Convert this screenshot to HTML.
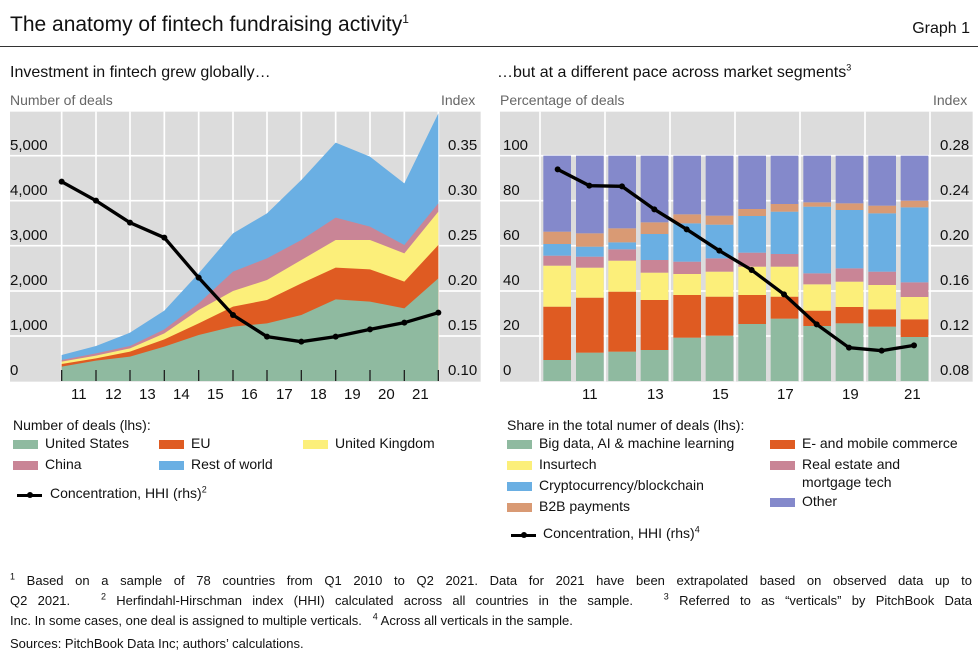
<!DOCTYPE html>
<html><head><meta charset="utf-8"><style>
body{margin:0;width:978px;height:653px;background:#fff;font-family:"Liberation Sans","DejaVu Sans",sans-serif;color:#111;position:relative;overflow:hidden}
.t{position:absolute;white-space:nowrap}
.g{color:#666}
.sw{position:absolute;width:25px;height:9px}
sup{font-size:9px;line-height:0}
.fn{position:absolute;left:10px;width:962px;font-size:13px;white-space:nowrap;text-align:justify;text-align-last:justify}
</style></head><body>
<div class="t" style="left:10px;top:13px;font-size:21px">The anatomy of fintech fundraising activity<sup style="font-size:12px">1</sup></div>
<div class="t" style="right:8px;top:20px;font-size:16px">Graph 1</div>
<div style="position:absolute;left:0;top:46px;width:978px;height:1px;background:#333"></div>
<div class="t" style="left:10px;top:64px;font-size:16px">Investment in fintech grew globally…</div>
<div class="t" style="left:497px;top:64px;font-size:16px">…but at a different pace across market segments<sup>3</sup></div>
<div class="t g" style="left:10px;top:92px;font-size:14px">Number of deals</div>
<div class="t g" style="left:441px;top:92px;font-size:14px">Index</div>
<div class="t g" style="left:500px;top:92px;font-size:14px">Percentage of deals</div>
<div class="t g" style="left:933px;top:92px;font-size:14px">Index</div>

<svg style="position:absolute;left:0;top:0" width="978" height="653">
<g transform="translate(0,90) scale(0.3333333)">
<rect x="30" y="65" width="1412" height="810" fill="#dcdcdc"/>
<g stroke="#fff" stroke-width="5">
<line x1="30" x2="1442" y1="197" y2="197"/><line x1="30" x2="1442" y1="332" y2="332"/><line x1="30" x2="1442" y1="467" y2="467"/><line x1="30" x2="1442" y1="603" y2="603"/><line x1="30" x2="1442" y1="738" y2="738"/>
<line y1="65" y2="873" x1="185" x2="185"/><line y1="65" y2="873" x1="288" x2="288"/><line y1="65" y2="873" x1="390" x2="390"/><line y1="65" y2="873" x1="493" x2="493"/><line y1="65" y2="873" x1="596" x2="596"/><line y1="65" y2="873" x1="699" x2="699"/><line y1="65" y2="873" x1="801" x2="801"/><line y1="65" y2="873" x1="904" x2="904"/><line y1="65" y2="873" x1="1007" x2="1007"/><line y1="65" y2="873" x1="1110" x2="1110"/><line y1="65" y2="873" x1="1213" x2="1213"/><line y1="65" y2="873" x1="1315" x2="1315"/>
</g>
<polygon fill="#6aafe3" points="185,873 185,795 288,768 390,728 493,662 596,550 699,430 801,370 904,270 1007,158 1110,200 1213,280 1315,70 1315,873"/>
<polygon fill="#c98596" points="185,873 185,810 288,790 390,768 493,718 596,640 699,545 801,505 904,450 1007,383 1110,410 1213,465 1315,340 1315,873"/>
<polygon fill="#fcef7a" points="185,873 185,815 288,797 390,775 493,730 596,660 699,603 801,570 904,510 1007,450 1110,450 1213,490 1315,365 1315,873"/>
<polygon fill="#df5b22" points="185,873 185,822 288,805 390,785 493,748 596,700 699,650 801,630 904,580 1007,533 1110,538 1213,575 1315,465 1315,873"/>
<polygon fill="#8fbaa0" points="185,873 185,830 288,812 390,800 493,770 596,735 699,710 801,700 904,675 1007,628 1110,635 1213,655 1315,565 1315,873"/>
<g stroke="#222" stroke-width="4"><line x1="185" x2="185" y1="840" y2="873"/><line x1="288" x2="288" y1="840" y2="873"/><line x1="390" x2="390" y1="840" y2="873"/><line x1="493" x2="493" y1="840" y2="873"/><line x1="596" x2="596" y1="840" y2="873"/><line x1="699" x2="699" y1="840" y2="873"/><line x1="801" x2="801" y1="840" y2="873"/><line x1="904" x2="904" y1="840" y2="873"/><line x1="1007" x2="1007" y1="840" y2="873"/><line x1="1110" x2="1110" y1="840" y2="873"/><line x1="1213" x2="1213" y1="840" y2="873"/><line x1="1315" x2="1315" y1="840" y2="873"/></g>
<polyline fill="none" stroke="#000" stroke-width="10" points="185,275 288,332 390,398 493,443 596,563 699,675 801,740 904,755 1007,740 1110,718 1213,698 1315,668"/>
<g fill="#000"><circle cx="185" cy="275" r="9"/><circle cx="288" cy="332" r="9"/><circle cx="390" cy="398" r="9"/><circle cx="493" cy="443" r="9"/><circle cx="596" cy="563" r="9"/><circle cx="699" cy="675" r="9"/><circle cx="801" cy="740" r="9"/><circle cx="904" cy="755" r="9"/><circle cx="1007" cy="740" r="9"/><circle cx="1110" cy="718" r="9"/><circle cx="1213" cy="698" r="9"/><circle cx="1315" cy="668" r="9"/></g>
</g>

<g transform="translate(490,90) scale(0.3333333)">
<rect x="30" y="65" width="1418" height="810" fill="#dcdcdc"/>
<g stroke="#fff" stroke-width="5">
<line x1="30" x2="1448" y1="197" y2="197"/><line x1="30" x2="1448" y1="332" y2="332"/><line x1="30" x2="1448" y1="467" y2="467"/><line x1="30" x2="1448" y1="603" y2="603"/><line x1="30" x2="1448" y1="738" y2="738"/>
<line y1="65" y2="875" x1="150" x2="150"/><line y1="65" y2="875" x1="345" x2="345"/><line y1="65" y2="875" x1="540" x2="540"/><line y1="65" y2="875" x1="735" x2="735"/><line y1="65" y2="875" x1="930" x2="930"/><line y1="65" y2="875" x1="1125" x2="1125"/><line y1="65" y2="875" x1="1320" x2="1320"/>
</g>
<g id="bars"></g>
<polyline fill="none" stroke="#000" stroke-width="10" points="203,238 298,287 396,289 493,358 590,418 688,482 785,540 882,613 980,703 1077,773 1175,782 1272,766"/>
<g fill="#000"><circle cx="203" cy="238" r="9"/><circle cx="298" cy="287" r="9"/><circle cx="396" cy="289" r="9"/><circle cx="493" cy="358" r="9"/><circle cx="590" cy="418" r="9"/><circle cx="688" cy="482" r="9"/><circle cx="785" cy="540" r="9"/><circle cx="882" cy="613" r="9"/><circle cx="980" cy="703" r="9"/><circle cx="1077" cy="773" r="9"/><circle cx="1175" cy="782" r="9"/><circle cx="1272" cy="766" r="9"/></g>
</g>
</svg>
<script>
(function(){
var xs=[160,258,355,452,550,647,745,842,940,1037,1135,1232];
var d=[[810,650,527,497,462,425],[788,623,533,500,470,430],[785,605,512,478,457,415],[780,630,548,510,432,397],[743,615,552,515,400,373],[737,620,545,505,404,377],[702,615,530,488,378,357],[686,620,530,492,365,342],[708,662,583,550,350,337],[700,651,575,535,360,340],[710,658,585,545,370,347],[741,688,621,577,352,332]];
var cols=["#8fbaa0","#df5b22","#fcef7a","#c98596","#6aafe3","#d99a74","#8489cb"];
var g=document.getElementById('bars'),s='';
for(var i=0;i<12;i++){var b=d[i].concat([197]);var prev=873;
for(var k=0;k<7;k++){s+='<rect x="'+xs[i]+'" y="'+b[k]+'" width="83" height="'+(prev-b[k])+'" fill="'+cols[k]+'"/>';prev=b[k];}}
g.innerHTML=s;
})();
</script>

<div class="t" style="left:10px;top:137px;font-size:15px">5,000</div>
<div class="t" style="left:10px;top:182px;font-size:15px">4,000</div>
<div class="t" style="left:10px;top:227px;font-size:15px">3,000</div>
<div class="t" style="left:10px;top:272px;font-size:15px">2,000</div>
<div class="t" style="left:10px;top:317px;font-size:15px">1,000</div>
<div class="t" style="left:10px;top:362px;font-size:15px">0</div>
<div class="t" style="left:448px;top:137px;font-size:15px">0.35</div>
<div class="t" style="left:448px;top:182px;font-size:15px">0.30</div>
<div class="t" style="left:448px;top:227px;font-size:15px">0.25</div>
<div class="t" style="left:448px;top:272px;font-size:15px">0.20</div>
<div class="t" style="left:448px;top:317px;font-size:15px">0.15</div>
<div class="t" style="left:448px;top:362px;font-size:15px">0.10</div>
<div class="t" style="left:71px;top:386px;font-size:15px">11</div>
<div class="t" style="left:105px;top:386px;font-size:15px">12</div>
<div class="t" style="left:139px;top:386px;font-size:15px">13</div>
<div class="t" style="left:173px;top:386px;font-size:15px">14</div>
<div class="t" style="left:207px;top:386px;font-size:15px">15</div>
<div class="t" style="left:241px;top:386px;font-size:15px">16</div>
<div class="t" style="left:276px;top:386px;font-size:15px">17</div>
<div class="t" style="left:310px;top:386px;font-size:15px">18</div>
<div class="t" style="left:344px;top:386px;font-size:15px">19</div>
<div class="t" style="left:378px;top:386px;font-size:15px">20</div>
<div class="t" style="left:412px;top:386px;font-size:15px">21</div>

<div class="t" style="left:503px;top:137px;font-size:15px">100</div>
<div class="t" style="left:503px;top:182px;font-size:15px">80</div>
<div class="t" style="left:503px;top:227px;font-size:15px">60</div>
<div class="t" style="left:503px;top:272px;font-size:15px">40</div>
<div class="t" style="left:503px;top:317px;font-size:15px">20</div>
<div class="t" style="left:503px;top:362px;font-size:15px">0</div>
<div class="t" style="left:940px;top:137px;font-size:15px">0.28</div>
<div class="t" style="left:940px;top:182px;font-size:15px">0.24</div>
<div class="t" style="left:940px;top:227px;font-size:15px">0.20</div>
<div class="t" style="left:940px;top:272px;font-size:15px">0.16</div>
<div class="t" style="left:940px;top:317px;font-size:15px">0.12</div>
<div class="t" style="left:940px;top:362px;font-size:15px">0.08</div>
<div class="t" style="left:582px;top:386px;font-size:15px">11</div>
<div class="t" style="left:647px;top:386px;font-size:15px">13</div>
<div class="t" style="left:712px;top:386px;font-size:15px">15</div>
<div class="t" style="left:777px;top:386px;font-size:15px">17</div>
<div class="t" style="left:842px;top:386px;font-size:15px">19</div>
<div class="t" style="left:904px;top:386px;font-size:15px">21</div>

<div class="t" style="left:13px;top:417px;font-size:14px">Number of deals (lhs):</div>
<div class="sw" style="left:13px;top:440px;background:#8fbaa0"></div><div class="t" style="left:45px;top:435px;font-size:14px">United States</div>
<div class="sw" style="left:159px;top:440px;background:#df5b22"></div><div class="t" style="left:191px;top:435px;font-size:14px">EU</div>
<div class="sw" style="left:303px;top:440px;background:#fcef7a"></div><div class="t" style="left:335px;top:435px;font-size:14px">United Kingdom</div>
<div class="sw" style="left:13px;top:461px;background:#c98596"></div><div class="t" style="left:45px;top:456px;font-size:14px">China</div>
<div class="sw" style="left:159px;top:461px;background:#6aafe3"></div><div class="t" style="left:191px;top:456px;font-size:14px">Rest of world</div>
<div style="position:absolute;left:17px;top:494px;width:25px;height:3px;background:#000"></div><div style="position:absolute;left:27px;top:492px;width:6px;height:6px;border-radius:50%;background:#000"></div>
<div class="t" style="left:50px;top:485px;font-size:14px">Concentration, HHI (rhs)<sup>2</sup></div>

<div class="t" style="left:507px;top:417px;font-size:14px">Share in the total numer of deals (lhs):</div>
<div class="sw" style="left:507px;top:440px;background:#8fbaa0"></div><div class="t" style="left:539px;top:435px;font-size:14px">Big data, AI &amp; machine learning</div>
<div class="sw" style="left:770px;top:440px;background:#df5b22"></div><div class="t" style="left:802px;top:435px;font-size:14px">E- and mobile commerce</div>
<div class="sw" style="left:507px;top:461px;background:#fcef7a"></div><div class="t" style="left:539px;top:456px;font-size:14px">Insurtech</div>
<div class="sw" style="left:770px;top:461px;background:#c98596"></div><div class="t" style="left:802px;top:456px;font-size:14px">Real estate and</div>
<div class="t" style="left:802px;top:474px;font-size:14px">mortgage tech</div>
<div class="sw" style="left:507px;top:482px;background:#6aafe3"></div><div class="t" style="left:539px;top:477px;font-size:14px">Cryptocurrency/blockchain</div>
<div class="sw" style="left:770px;top:498px;background:#8489cb"></div><div class="t" style="left:802px;top:493px;font-size:14px">Other</div>
<div class="sw" style="left:507px;top:503px;background:#d99a74"></div><div class="t" style="left:539px;top:498px;font-size:14px">B2B payments</div>
<div style="position:absolute;left:511px;top:534px;width:25px;height:3px;background:#000"></div><div style="position:absolute;left:521px;top:532px;width:6px;height:6px;border-radius:50%;background:#000"></div>
<div class="t" style="left:543px;top:525px;font-size:14px">Concentration, HHI (rhs)<sup>4</sup></div>

<div class="fn" style="top:573px"><sup>1</sup> Based on a sample of 78 countries from Q1 2010 to Q2 2021. Data for 2021 have been extrapolated based on observed data up to</div>
<div class="fn" style="top:593px">Q2 2021. &nbsp; <sup>2</sup> Herfindahl-Hirschman index (HHI) calculated across all countries in the sample. &nbsp; <sup>3</sup> Referred to as “verticals” by PitchBook Data</div>
<div class="fn" style="top:613px;text-align-last:left">Inc. In some cases, one deal is assigned to multiple verticals. &nbsp; <sup>4</sup> Across all verticals in the sample.</div>
<div class="t" style="left:10px;font-size:13px;top:636px;">Sources: PitchBook Data Inc; authors’ calculations.</div>
</body></html>
